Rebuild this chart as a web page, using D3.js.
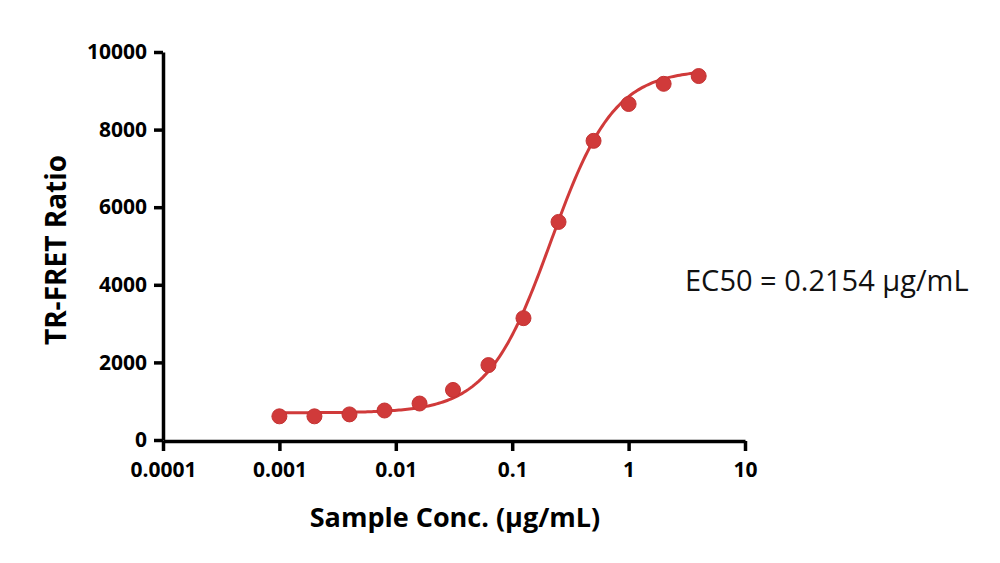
<!DOCTYPE html>
<html>
<head>
<meta charset="utf-8">
<script src="https://cdn.jsdelivr.net/npm/d3@7"></script>
<style>
  body { margin: 0; background: #fff; }
  svg text { font-family: "Open Sans", sans-serif; }
</style>
</head>
<body>
<svg id="chart"></svg>
<script>
// measured points
var conc = [0.001, 0.002, 0.004, 0.008, 0.016, 0.031, 0.0625, 0.125, 0.25, 0.5, 1, 2, 4];
var ratio = [610, 610, 660, 760, 940, 1290, 1930, 3140, 5620, 7710, 8660, 9180, 9380];
var xTicks = [0.0001, 0.001, 0.01, 0.1, 1, 10];
var xTickLabels = ["0.0001", "0.001", "0.01", "0.1", "1", "10"];
var yTicks = [0, 2000, 4000, 6000, 8000, 10000];
// 4PL fit parameters
var fitBottom = 700, fitTop = 9550, fitEC50 = 0.2154, fitHill = 1.6;

var svg = d3.select("#chart").attr("width", 1000).attr("height", 563),
    margin = {top: 52, left: 163},
    width = 582,
    height = 388,
    g = svg.append("g").attr("transform", "translate(" + margin.left + "," + margin.top + ")");

var x = d3.scaleLog().domain([0.0001, 10]).range([0, width]);
var y = d3.scaleLinear().domain([0, 10000]).range([height, 0]);

var red = "#d03a3a";

// axes
var xAxis = g.append("g")
    .attr("transform", "translate(0," + (height + 1) + ")")
    .call(d3.axisBottom(x).tickValues(xTicks).tickFormat(function(d, i) { return xTickLabels[i]; })
        .tickSize(10).tickSizeOuter(0));
var yAxis = g.append("g")
    .call(d3.axisLeft(y).tickValues(yTicks).tickFormat(d3.format("d")).tickSize(9).tickSizeOuter(0));

[xAxis, yAxis].forEach(function(a) {
    a.select(".domain").attr("stroke", "#000").attr("stroke-width", 3.5);
    a.selectAll(".tick line").attr("stroke", "#000").attr("stroke-width", 3.5);
    a.selectAll(".tick text")
        .attr("fill", "#000")
        .attr("font-family", "'Open Sans', sans-serif")
        .attr("font-weight", "bold")
        .attr("font-size", "21px");
});
xAxis.selectAll(".tick text").attr("dy", "1.05em").attr("y", 14);
yAxis.selectAll(".tick text").attr("x", -16);

// fitted curve
var curveX = d3.range(0, 201).map(function(i) {
    return Math.pow(10, Math.log10(conc[0]) + i / 200 * (Math.log10(conc[conc.length - 1]) - Math.log10(conc[0])));
});
var line = d3.line()
    .x(function(d) { return x(d); })
    .y(function(d) { return y(fitBottom + (fitTop - fitBottom) / (1 + Math.pow(fitEC50 / d, fitHill))); });
g.append("path")
    .datum(curveX)
    .attr("fill", "none")
    .attr("stroke", red)
    .attr("stroke-width", 3)
    .attr("d", line);

// points
g.selectAll("circle")
    .data(conc)
    .enter().append("circle")
    .attr("cx", function(d) { return x(d); })
    .attr("cy", function(d, i) { return y(ratio[i]); })
    .attr("r", 7.5)
    .attr("fill", red)
    .attr("stroke", "#c43333")
    .attr("stroke-width", 1);

// axis titles
svg.append("text")
    .attr("x", 455)
    .attr("y", 527)
    .attr("text-anchor", "middle")
    .attr("font-weight", "bold")
    .attr("font-size", "27px")
    .text("Sample Conc. (μg/mL)");

svg.append("text")
    .attr("transform", "translate(66,250) rotate(-90)")
    .attr("text-anchor", "middle")
    .attr("font-weight", "bold")
    .attr("font-size", "28px")
    .text("TR-FRET Ratio");

svg.append("text")
    .attr("x", 685)
    .attr("y", 291)
    .attr("font-size", "29px")
    .attr("fill", "#111")
    .text("EC50 = 0.2154 μg/mL");
</script>
</body>
</html>
